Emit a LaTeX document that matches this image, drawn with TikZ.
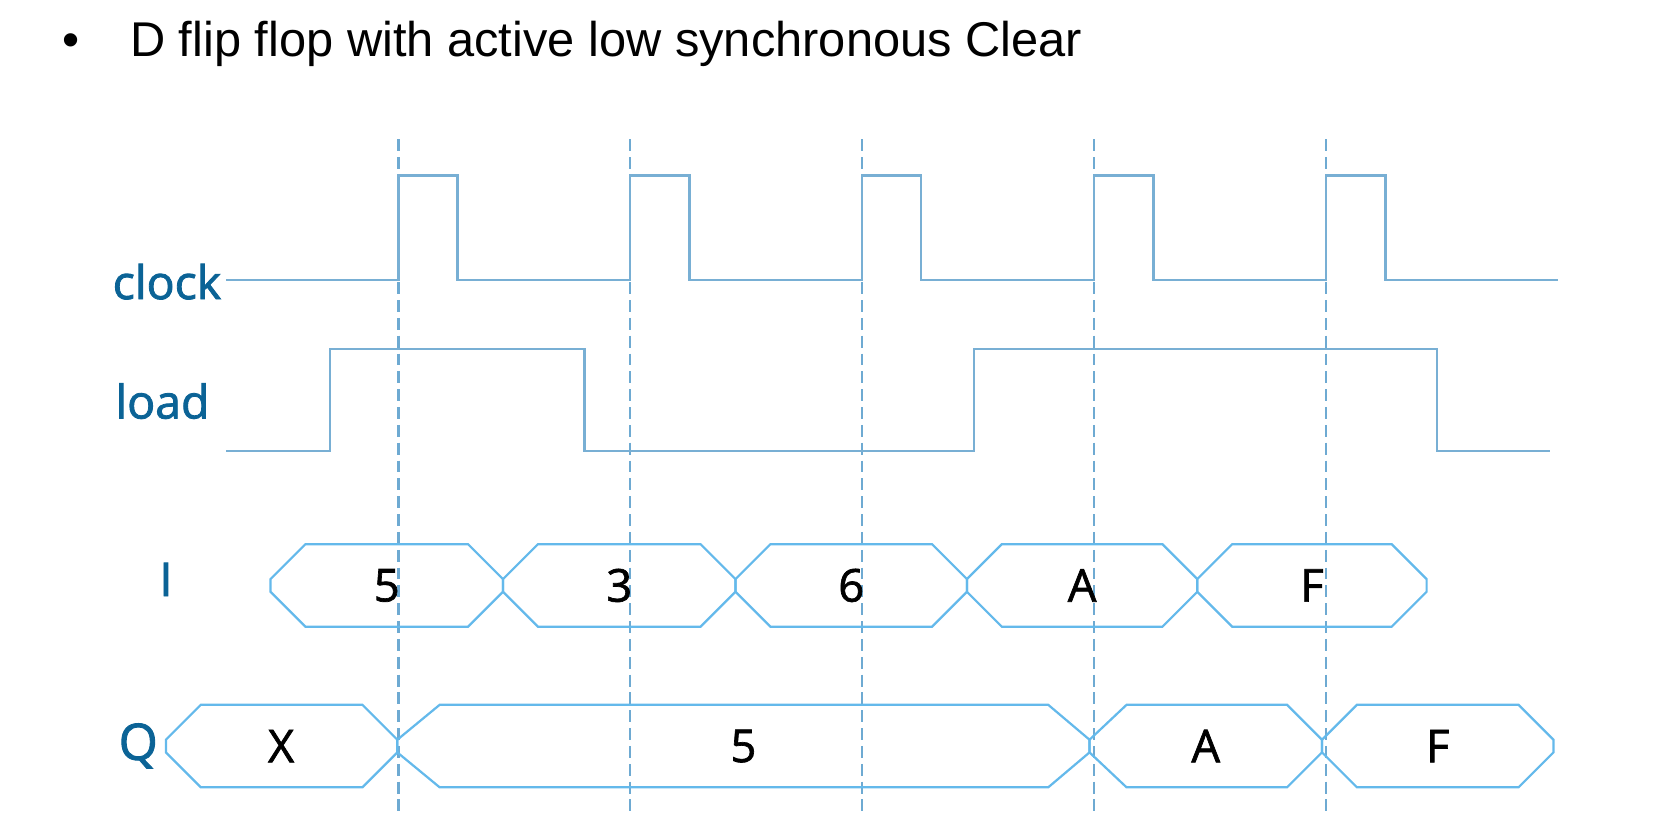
\documentclass[tikz,border=0pt]{standalone}
\usepackage{fontspec}
\setmainfont{Liberation Sans}
\newfontfamily\labfont[FakeBold=1.8]{Open Sans}
\newfontfamily\valfont[FakeBold=1.5]{Open Sans}
\definecolor{labblue}{RGB}{11,99,150}
\definecolor{wavecol}{RGB}{120,175,212}
\definecolor{dashcol}{RGB}{110,170,210}
\definecolor{buscol}{RGB}{100,185,235}
\newcommand\busseg[5]{%
  \draw[bus] (#1,{#3-6}) -- ({#1+#4},{#3-39}) -- ({#2-#5},{#3-39}) -- (#2,{#3-6})
    -- (#2,{#3+6}) -- ({#2-#5},{#3+39}) -- ({#1+#4},{#3+39}) -- (#1,{#3+6}) -- cycle;}
\begin{document}
\begin{tikzpicture}[x=0.01cm,y=-0.01cm,
  wave/.style={draw=wavecol,line width=0.6pt,line join=miter},
  gridline/.style={draw=dashcol,line width=0.6pt,dash pattern=on 3.2pt off 1.6pt},
  bus/.style={draw=buscol,line width=0.6pt,line join=miter},
  sig/.style={font=\labfont\fontsize{12.5pt}{14pt}\selectfont,text=labblue,inner sep=0pt},
  val/.style={font=\valfont\fontsize{12.2pt}{14pt}\selectfont,text=black,inner sep=0pt},
  title/.style={font=\fontsize{13.13pt}{15pt}\selectfont,text=black,inner sep=0pt}]
\useasboundingbox (0,0) rectangle (1568,788);
% title
\node[title,anchor=base west] (bullet) at (58,53) {•};
\node[title,anchor=base west] (ttl) at (122.5,53) {D flip flop with active low synchronous Clear};
% dashed clock edge lines
\foreach \x in {377,596.5,816,1035.5,1255}
  \draw[gridline] (\x,132) -- (\x,772);
% signal labels
\node[sig,anchor=base east] (lclock) at (210,283) {clock};
\node[sig,anchor=base east] (lload) at (199,396) {load};
\node[sig,anchor=base] (lI) at (157,564) {I};
\node[sig,anchor=base east,font=\labfont\fontsize{13.5pt}{15pt}\selectfont] (lQ) at (150,719) {Q};
% clock
\draw[wave] (214,265) -- (377,265) -- (377,166) -- (433,166) -- (433,265)
  -- (596.5,265) -- (596.5,166) -- (652.5,166) -- (652.5,265)
  -- (816,265) -- (816,166) -- (871.5,166) -- (871.5,265)
  -- (1035.5,265) -- (1035.5,166) -- (1091.5,166) -- (1091.5,265)
  -- (1255,265) -- (1255,166) -- (1311,166) -- (1311,265) -- (1474,265);
% load
\draw[wave] (214,427) -- (312,427) -- (312,330) -- (553,330) -- (553,427)
  -- (922,427) -- (922,330) -- (1360,330) -- (1360,427) -- (1467,427);
% I bus
\busseg{256}{476}{554}{33}{33}
\busseg{476}{696}{554}{33}{33}
\busseg{696}{915}{554}{33}{33}
\busseg{915}{1133}{554}{33}{33}
\busseg{1133}{1350}{554}{33}{33}
\node[val] (i1) at (366,554) {5};
\node[val] (i2) at (586,554) {3};
\node[val] (i3) at (805.5,554) {6};
\node[val] (i4) at (1024,554) {A};
\node[val] (i5) at (1241.5,554) {F};
% Q bus
\busseg{157}{376}{706}{33}{33}
\busseg{376}{1031}{706}{40}{39}
\busseg{1031}{1251}{706}{35}{33}
\busseg{1251}{1470}{706}{33}{33}
\node[val] (q1) at (266,706) {X};
\node[val] (q2) at (703.5,706) {5};
\node[val] (q3) at (1141,706) {A};
\node[val] (q4) at (1360.5,706) {F};
\end{tikzpicture}
\end{document}
